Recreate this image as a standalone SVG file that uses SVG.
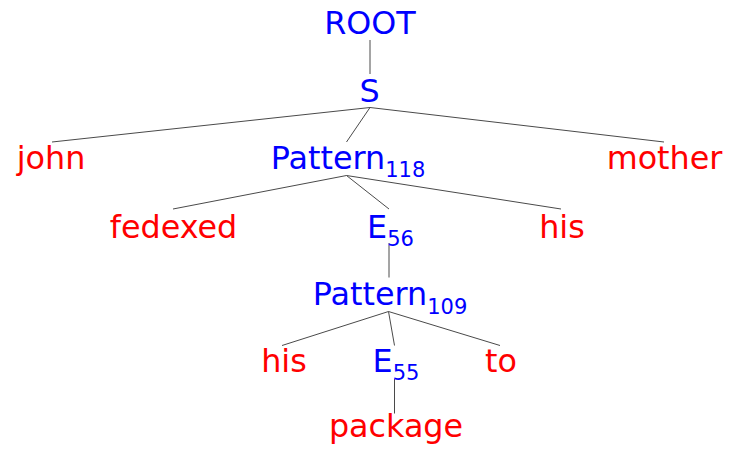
<svg xmlns="http://www.w3.org/2000/svg" width="738" height="452" viewBox="0 0 738 452">
<style>
text{font-family:"DejaVu Sans","Liberation Sans",sans-serif;font-size:31.8px;text-anchor:middle}
.nt{fill:#0000ff}
.t{fill:#ff0000}
.sub{font-size:21px}
#edges line{stroke:#4a4a4a;stroke-width:1}
</style>
<rect width="738" height="452" fill="#ffffff"/>
<g id="edges">
<line x1="370" y1="40" x2="370" y2="74"/>
<line x1="370" y1="107.5" x2="52" y2="142"/>
<line x1="370" y1="107.5" x2="346.5" y2="142"/>
<line x1="370" y1="107.5" x2="664" y2="142"/>
<line x1="346.5" y1="175.5" x2="173" y2="209"/>
<line x1="346.5" y1="175.5" x2="389" y2="209"/>
<line x1="346.5" y1="175.5" x2="561" y2="209"/>
<line x1="389" y1="243" x2="389" y2="277.5"/>
<line x1="388.5" y1="311.5" x2="282" y2="345.5"/>
<line x1="388.5" y1="311.5" x2="394.5" y2="345.5"/>
<line x1="388.5" y1="311.5" x2="500" y2="345.5"/>
<line x1="394.5" y1="378.5" x2="394.5" y2="413.5"/>
</g>
<g id="n-root"><text class="nt" x="370" y="34">ROOT</text></g>
<g id="n-s"><text class="nt" x="369.5" y="101.5">S</text></g>
<g id="n-john"><text class="t" x="51" y="168.5">john</text></g>
<g id="n-pattern118"><text class="nt" x="348" y="168.5">Pattern<tspan class="sub" dy="8.5">118</tspan></text></g>
<g id="n-mother"><text class="t" x="664.5" y="168.5">mother</text></g>
<g id="n-fedexed"><text class="t" x="173.5" y="238">fedexed</text></g>
<g id="n-e56"><text class="nt" x="390.5" y="238">E<tspan class="sub" dy="8">56</tspan></text></g>
<g id="n-his1"><text class="t" x="562" y="238">his</text></g>
<g id="n-pattern109"><text class="nt" x="390" y="305">Pattern<tspan class="sub" dy="8.5">109</tspan></text></g>
<g id="n-his2"><text class="t" x="284" y="371.5">his</text></g>
<g id="n-e55"><text class="nt" x="396" y="371.5">E<tspan class="sub" dy="8.5">55</tspan></text></g>
<g id="n-to"><text class="t" x="501" y="371.5">to</text></g>
<g id="n-package"><text class="t" x="396" y="436.5">package</text></g>
</svg>
